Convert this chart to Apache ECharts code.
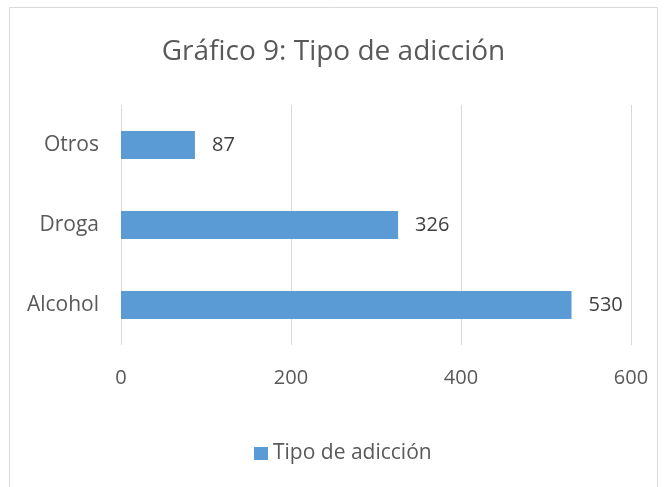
<!DOCTYPE html>
<html>
<head>
<meta charset="utf-8">
<script src="https://cdn.jsdelivr.net/npm/echarts@6/dist/echarts.min.js"></script>
<style>
  html, body { margin: 0; padding: 0; background: #fff; }
  #chart { width: 667px; height: 487px; }
</style>
</head>
<body>
<div id="chart"></div>
<script>
// data
var categories = ['Alcohol', 'Droga', 'Otros']
var values = [530, 326, 87]
var seriesName = 'Tipo de adicción'
var titleText = 'Gráfico 9: Tipo de adicción'

var font = 'Open Sans'
var myChart = echarts.init(document.getElementById('chart'))
myChart.setOption({
  animation: false,
  backgroundColor: '#fff',
  title: {
    text: titleText,
    left: 'center',
    top: 33,
    textStyle: { fontFamily: font, fontSize: 28, fontWeight: 'normal', color: '#595959' }
  },
  graphic: [{
    type: 'rect',
    shape: { x: 9.5, y: 7.5, width: 648, height: 500 },
    style: { fill: 'none', stroke: '#d9d9d9', lineWidth: 1 },
    z: -1
  }],
  legend: {
    bottom: 18,
    left: 249,
    itemWidth: 14,
    itemHeight: 13,
    itemGap: 6,
    icon: 'rect',
    textStyle: { fontFamily: font, fontSize: 21, color: '#595959' },
    data: [seriesName]
  },
  grid: { left: 121, right: 36, top: 105, bottom: 142 },
  xAxis: {
    type: 'value',
    min: 0,
    max: 600,
    interval: 200,
    axisLine: { show: false },
    axisTick: { show: false },
    axisLabel: { margin: 23, fontFamily: font, fontSize: 20, color: '#595959' },
    splitLine: { lineStyle: { color: '#d9d9d9', width: 1 } }
  },
  yAxis: {
    type: 'category',
    data: categories,
    axisLine: { show: false },
    axisTick: { show: false },
    axisLabel: { margin: 22, fontFamily: font, fontSize: 21, color: '#595959' }
  },
  series: [{
    name: seriesName,
    type: 'bar',
    data: values,
    barWidth: 28,
    itemStyle: { color: '#5b9bd5' },
    label: {
      show: true,
      position: 'right',
      distance: 17,
      fontFamily: font,
      fontSize: 20,
      color: '#404040'
    }
  }]
})
</script>
</body>
</html>
